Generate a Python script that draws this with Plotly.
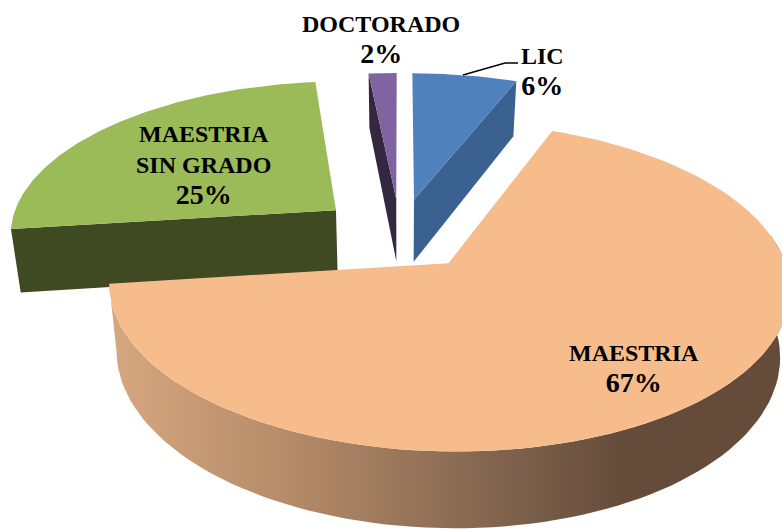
import math
import plotly.graph_objects as go

categories = ["LIC", "MAESTRIA", "MAESTRIA<br>SIN GRADO", "DOCTORADO"]
values = [6, 67, 25.4, 1.6]
explode = [0.235, 0.235, 0.255, 0.235]
percent_labels = ["6%", "67%", "25%", "2%"]
top_colors = ["#4F81BD", "#F6BC8C", "#9BBB59", "#8064A2"]
wall_colors = ["#3A6190", None, "#3F4A22", "#332840"]

W, H = 782, 529
CX, CY = 400, 234      # projected pie centre
A, B = 328, 153        # plane scale
K = 0.14               # perspective strength
DEPTH = 64
SHRINK = 0.975
N = 120

def proj(X, Z, low=False):
    d = 1 + K * Z
    x = A * X / d
    y = CY - B * Z / d
    if low:
        x *= SHRINK
        y += DEPTH / d
    return CX + x, y

total = sum(values)
slices = []
acc = 0.0
for v in values:
    a0 = acc / total * 2 * math.pi
    a1 = (acc + v) / total * 2 * math.pi
    acc += v
    slices.append((a0, a1))

def point(i, t, r=1.0):
    a0, a1 = slices[i]
    m = (a0 + a1) / 2
    return explode[i] * math.sin(m) + r * math.sin(t), explode[i] * math.cos(m) + r * math.cos(t)

def poly(xy, color, **kw):
    xs = [p[0] for p in xy] + [xy[0][0]]
    ys = [p[1] for p in xy] + [xy[0][1]]
    return go.Scatter(x=xs, y=ys, mode="lines", fill="toself", fillcolor=color,
                      line=dict(color=color, width=0), hoverinfo="skip", showlegend=False, **kw)

def rim(i):
    a0, a1 = slices[i]
    return [a0 + (a1 - a0) * j / N for j in range(N + 1)]

def apex(i):
    return point(i, 0, 0)

def radial_wall(i, t, color):
    p = point(i, t)
    c = apex(i)
    return poly([proj(*c), proj(*p), proj(*p, True), proj(*c, True)], color)

def top(i):
    return poly([proj(*apex(i))] + [proj(*point(i, t)) for t in rim(i)], top_colors[i])

GRAD = [(0.0, "rgb(214,168,128)"), (0.3, "rgb(176,135,102)"), (0.58, "rgb(128,100,78)"),
        (0.76, "rgb(101,76,58)"), (1.0, "rgb(101,76,58)")]

fig = go.Figure()
fig.add_trace(radial_wall(2, slices[2][0], wall_colors[2]))
fig.add_trace(top(2))
fig.add_trace(radial_wall(3, slices[3][0], wall_colors[3]))
fig.add_trace(top(3))
fig.add_trace(radial_wall(0, slices[0][1], wall_colors[0]))
fig.add_trace(top(0))

# peach outer wall, one polygon with a horizontal gradient; only the front part of the rim
front = [t for t in rim(1) if math.cos(t) < 0.2]
upper = [proj(*point(1, t)) for t in front]
lower = [proj(*point(1, t), True) for t in reversed(front)]
fig.add_trace(go.Scatter(
    x=[p[0] for p in upper + lower] + [upper[0][0]],
    y=[p[1] for p in upper + lower] + [upper[0][1]],
    mode="lines", fill="toself", line=dict(width=0), hoverinfo="skip", showlegend=False,
    fillgradient=dict(type="horizontal", colorscale=GRAD, start=110, stop=782),
))
fig.add_trace(top(1))

# LIC leader line
fig.add_trace(go.Scatter(x=[463, 505, 518], y=[75, 63, 63], mode="lines",
                         line=dict(color="black", width=1.5), hoverinfo="skip", showlegend=False))

label_xy = [(542, 72), (634, 369), (203, 165), (381, 40)]
for name, pct, (x, y) in zip(categories, percent_labels, label_xy):
    lines = "".join("<b>%s</b><br>" % s for s in name.split("<br>"))
    text = lines + '<b><span style="font-size:28px">%s</span></b>' % pct
    fig.add_annotation(x=x, y=y, text=text, showarrow=False, xref="x", yref="y",
                       font=dict(family="Liberation Serif", size=24, color="black"),
                       align="center")

fig.update_layout(width=W, height=H, margin=dict(l=0, r=0, t=0, b=0),
                  paper_bgcolor="white", plot_bgcolor="white", showlegend=False,
                  xaxis=dict(range=[0, W], visible=False, fixedrange=True),
                  yaxis=dict(range=[H, 0], visible=False, fixedrange=True))
fig.write_html("out.html", config={"displayModeBar": False},
               post_script="document.body.style.margin='0';")
